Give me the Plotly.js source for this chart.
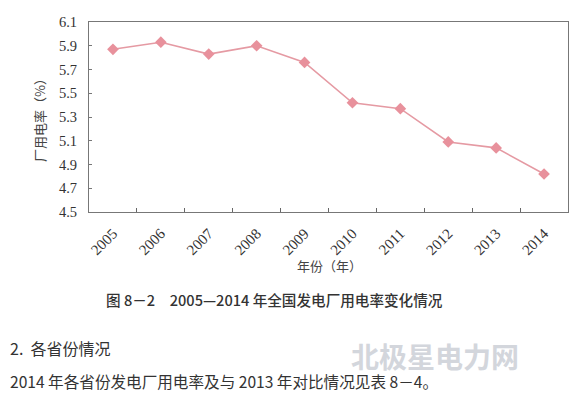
<!DOCTYPE html>
<html>
<head>
<meta charset="utf-8">
<script src="https://cdn.plot.ly/plotly-3.0.1.min.js"></script>
<style>html,body{margin:0;padding:0;background:#fff;}#chart{width:577px;height:398px;}</style>
</head>
<body>
<div id="chart"></div>
<script>
var years = ['2005','2006','2007','2008','2009','2010','2011','2012','2013','2014'];
var rates = [5.87, 5.93, 5.83, 5.90, 5.76, 5.42, 5.37, 5.09, 5.04, 4.82];
var yTicks = [4.5, 4.7, 4.9, 5.1, 5.3, 5.5, 5.7, 5.9, 6.1];
var yTickLabels = ['4.5','4.7','4.9','5.1','5.3','5.5','5.7','5.9','6.1'];

var cjk = '"Noto Sans CJK SC", "Noto Sans", sans-serif';
var serif = '"Liberation Serif", "DejaVu Serif", serif';

var trace = {
  x: years, y: rates, type: 'scatter', mode: 'lines+markers',
  line: {color: '#e59aa3', width: 1.6},
  marker: {symbol: 'diamond', size: 9, color: '#e8919c'},
  hoverinfo: 'none'
};

var layout = {
  width: 577, height: 398,
  margin: {l: 89, r: 9, t: 22, b: 186},
  paper_bgcolor: '#ffffff', plot_bgcolor: '#ffffff',
  showlegend: false,
  xaxis: {
    type: 'category', tickson: 'boundaries', ticks: 'inside', ticklen: 4, tickcolor: '#666',
    showline: true, linecolor: '#777', linewidth: 1, mirror: true, showgrid: false, zeroline: false,
    tickangle: -45, tickfont: {family: serif, size: 15, color: '#333'}, ticklabelstandoff: 6,
    range: [-0.5, 9.5]
  },
  yaxis: {
    range: [4.5, 6.1], tickvals: yTicks, ticktext: yTickLabels, ticks: 'inside', ticklen: 3, tickcolor: '#777',
    showline: true, linecolor: '#777', linewidth: 1, mirror: true, showgrid: false, zeroline: false,
    tickfont: {family: serif, size: 14.5, color: '#333'}, ticklabelstandoff: 8,
    title: {text: '厂用电率（%）', font: {family: cjk, size: 13, color: '#444'}, standoff: 10}
  },
  annotations: [
    {text: '年份（年）', xref: 'paper', yref: 'paper', x: 0.503, y: -0.279, showarrow: false,
     xanchor: 'center', yanchor: 'middle', font: {family: cjk, size: 13, color: '#444'}},
    {text: '图 8－2　2005—2014 年全国发电厂用电率变化情况', xref: 'paper', yref: 'paper', x: 0.388, y: -0.463, showarrow: false,
     xanchor: 'center', yanchor: 'middle', font: {family: cjk, size: 14.6, color: '#333', weight: 500}},
    {text: '北极星电力网', xref: 'paper', yref: 'paper', x: 0.722, y: -0.76, showarrow: false,
     xanchor: 'center', yanchor: 'middle', font: {family: cjk, size: 28, color: '#d3d6dc', weight: 700}},
    {text: '2.  各省份情况', xref: 'paper', yref: 'paper', x: -0.169, y: -0.716, showarrow: false,
     xanchor: 'left', yanchor: 'middle', font: {family: cjk, size: 16, color: '#333'}},
    {text: '2014 年各省份发电厂用电率及与 2013 年对比情况见表 8－4。', xref: 'paper', yref: 'paper', x: -0.169, y: -0.889, showarrow: false,
     xanchor: 'left', yanchor: 'middle', font: {family: cjk, size: 15.6, color: '#333'}}
  ]
};

Plotly.newPlot('chart', [trace], layout, {staticPlot: true, displayModeBar: false});
</script>
</body>
</html>
